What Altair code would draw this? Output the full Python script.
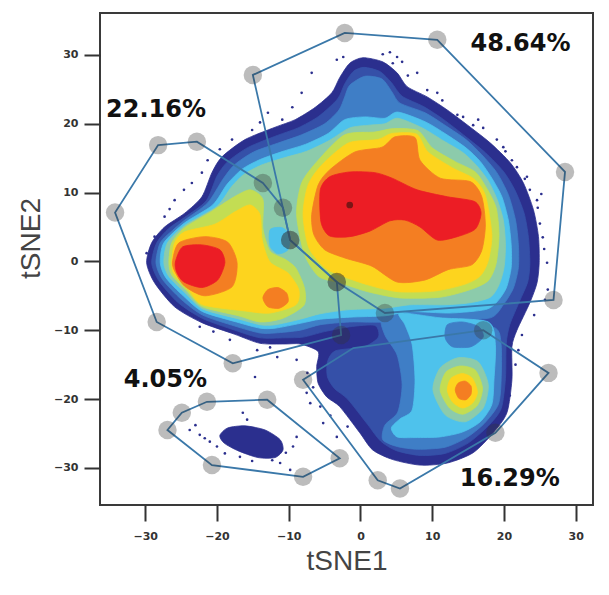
import altair as alt
import pandas as pd

# ---------------- axes ----------------
X_DOMAIN = [-36.3, 32.4]
Y_DOMAIN = [-35.4, 36.1]
TICK_VALUES = [-30, -20, -10, 0, 10, 20, 30]

# ---------------- density levels (outer -> inner) ----------------
LEVELS = ["d1", "d2", "d3", "d4", "d5", "d6", "d7", "d8", "d9"]
LEVEL_COLORS = ["#2b2f8e", "#3550a8", "#3f7ec6", "#4ec2ec", "#8ccbab",
                "#c3dd53", "#fdd41e", "#f47e22", "#ec1d25"]

# contour outlines (tSNE1, tSNE2)
L1_MAIN = [(0.35, 29.6), (3.1, 29.0), (5.1, 27.4), (6.5, 25.4), (9.3, 23.9), (12.1, 22.0), (15.3, 19.5),
           (18.1, 17.2), (20.9, 14.3), (22.7, 11.4), (24.1, 7.5), (24.8, 3.6), (24.9, -0.2), (24.6, -3.1),
           (23.6, -6.0), (21.8, -10.0), (21.1, -12.4), (21.1, -17.2), (20.4, -22.0), (18.5, -24.9),
           (15.7, -27.8), (12.1, -29.3), (8.3, -29.6), (4.5, -28.8), (1.7, -27.4), (-0.1, -24.9),
           (-2.9, -21.1), (-4.7, -19.7), (-5.9, -17.7), (-6.1, -15.3), (-5.9, -13.1), (-8.4, -12.0),
           (-10.5, -12.0), (-14.0, -11.9), (-17.5, -10.6), (-22.1, -8.9), (-25.9, -6.6), (-28.7, -3.1),
           (-29.8, -0.2), (-29.1, 2.7), (-27.3, 5.0), (-24.5, 7.0), (-22.1, 9.4), (-20.7, 12.9),
           (-19.3, 15.2), (-16.1, 17.7), (-11.9, 19.5), (-9.1, 20.6), (-6.3, 22.4), (-4.0, 24.5),
           (-2.9, 26.7), (-1.5, 28.8)]
L1_ISLAND = [(-19.6, -25.3), (-18.5, -24.2), (-16.1, -23.9), (-13.3, -24.5), (-11.2, -25.9), (-10.8, -27.4),
             (-11.9, -28.5), (-14.3, -28.5), (-17.1, -27.5), (-19.0, -26.4)]
L2_MAIN = [(0.5, 28.2), (2.7, 27.6), (4.3, 26.0), (5.8, 24.0), (8.8, 22.5), (11.6, 20.6), (14.7, 18.1),
           (17.4, 15.8), (19.9, 13.1), (21.5, 10.4), (22.8, 7.0), (23.4, 3.5), (23.6, -0.3), (23.3, -3.0),
           (22.2, -5.7), (20.8, -9.2), (20.3, -12.0), (20.2, -17.0), (19.6, -21.4), (17.8, -23.9),
           (15.0, -26.4), (11.8, -27.9), (8.3, -28.2), (5.0, -27.5), (2.8, -26.1), (1.0, -23.7),
           (-1.8, -20.0), (-3.6, -18.5), (-4.6, -16.8), (-4.6, -14.6), (-3.5, -13.0), (0.5, -12.4),
           (2.5, -11.0), (2.0, -9.3), (-1.5, -9.5), (-5.0, -10.2), (-8.0, -11.0), (-10.5, -11.1),
           (-14.0, -11.1), (-17.5, -10.0), (-22.0, -8.3), (-25.4, -6.0), (-28.1, -2.8), (-29.1, -0.2),
           (-28.4, 2.7), (-26.7, 4.8), (-24.5, 6.4), (-21.5, 8.8), (-20.0, 12.4), (-18.5, 14.5),
           (-15.6, 16.6), (-11.6, 18.3), (-8.7, 19.4), (-5.8, 21.1), (-3.2, 23.6), (-2.2, 25.8), (-1.0, 27.6)]
L3_UPPER = [(-1.5, 25.6), (0.6, 26.9), (3.0, 26.5), (4.4, 24.6), (5.5, 23.0), (9.0, 21.6), (11.9, 19.7),
            (14.7, 17.7), (16.9, 15.5), (19.0, 12.9), (20.6, 9.7), (21.6, 6.0), (22.0, 2.4), (22.0, -0.9),
            (21.3, -3.9), (19.9, -6.3), (18.1, -8.2), (12.5, -8.5), (6.9, -8.2), (3.4, -8.8), (-1.5, -8.8),
            (-5.6, -9.2), (-8.4, -10.0), (-11.9, -10.4), (-14.0, -10.4), (-17.5, -9.4), (-22.0, -7.8),
            (-25.0, -5.5), (-27.6, -2.6), (-28.5, -0.2), (-27.9, 2.7), (-26.2, 4.5), (-24.5, 6.0),
            (-21.3, 8.5), (-19.2, 11.9), (-17.6, 14.0), (-14.9, 15.9), (-11.2, 17.3), (-8.2, 18.4),
            (-5.0, 20.0), (-3.0, 22.0), (-2.2, 23.9)]
L3_LOWER = [(3.1, -8.2), (8.3, -8.2), (13.9, -8.8), (18.8, -9.7), (19.6, -12.1), (19.6, -17.2), (19.2, -20.8),
            (17.2, -23.6), (14.8, -25.6), (11.8, -27.0), (8.0, -27.3), (5.1, -26.9), (3.1, -25.9),
            (3.4, -23.8), (5.2, -21.9), (5.8, -17.9), (5.1, -13.6), (3.4, -10.7)]
L4_UPPER = [(-2.2, 20.6), (0.6, 21.0), (3.4, 20.8), (5.2, 21.7), (9.0, 20.3), (11.9, 18.5), (14.7, 16.5),
            (16.7, 14.5), (18.3, 12.1), (19.7, 9.4), (20.6, 6.0), (21.0, 2.4), (21.0, -0.9), (20.3, -3.9),
            (19.0, -5.9), (17.4, -7.0), (12.5, -7.5), (6.9, -7.3), (3.4, -7.9), (-1.5, -8.1), (-5.6, -8.4),
            (-8.4, -9.0), (-11.9, -9.7), (-14.0, -9.7), (-17.3, -8.8), (-22.0, -7.3), (-24.7, -5.0),
            (-27.1, -2.4), (-27.9, -0.2), (-27.4, 2.7), (-24.5, 5.6), (-20.6, 8.2), (-18.6, 11.2),
            (-16.5, 13.4), (-14.0, 14.8), (-10.8, 16.0), (-7.7, 17.0), (-4.5, 18.6)]
L4_LOWER = [(5.5, -7.5), (11.1, -8.2), (17.8, -8.8), (18.8, -12.1), (18.6, -17.2), (18.3, -20.8),
            (16.7, -23.3), (14.2, -24.8), (11.1, -25.5), (7.6, -25.6), (5.1, -25.5), (4.3, -24.2),
            (5.5, -22.9), (7.2, -21.6), (7.6, -17.2), (7.2, -12.1), (6.2, -9.2)]
L3_BLOB = [(12.1, -9.2), (14.2, -8.8), (16.5, -9.5), (17.1, -11.0), (15.4, -12.4), (12.8, -12.4), (11.8, -11.1)]
L5_MAIN = [(-1.5, 19.4), (1.3, 19.8), (3.4, 20.0), (5.2, 20.8), (8.6, 19.4), (11.6, 17.5), (14.3, 15.8),
           (16.2, 13.9), (17.8, 11.7), (19.0, 9.1), (19.9, 6.0), (20.2, 2.4), (20.0, -0.9), (19.3, -3.4),
           (18.1, -5.2), (15.3, -6.0), (11.8, -6.3), (6.9, -6.3), (3.4, -6.8), (-1.5, -7.0), (-5.6, -7.6),
           (-8.4, -8.4), (-11.9, -9.2), (-14.0, -9.2), (-17.2, -8.3), (-22.0, -6.9), (-24.4, -4.6),
           (-26.7, -2.2), (-27.4, -0.2), (-26.9, 2.7), (-24.5, 5.2), (-20.0, 8.0), (-18.0, 10.8),
           (-16.3, 12.6), (-13.8, 14.0), (-10.5, 15.1), (-7.5, 16.0), (-4.3, 17.6)]
L6_UPPER = [(-8.9, 6.8), (-8.2, 11.4), (-5.9, 14.7), (-2.2, 18.4), (2.0, 18.8), (4.6, 19.3), (8.0, 19.0),
            (10.0, 16.5), (13.2, 14.5), (16.0, 13.0), (17.6, 10.6), (18.9, 7.8), (19.3, 3.9), (18.9, -0.3),
            (17.8, -2.8), (15.3, -4.1), (11.1, -5.2), (5.5, -5.3), (1.0, -4.4), (-2.9, -3.1), (-5.8, -2.2),
            (-7.8, 1.0)]
L6_LEFT = [(-26.7, -0.1), (-26.3, 2.7), (-24.5, 4.9), (-20.7, 7.3), (-17.9, 9.2), (-15.4, 10.4), (-13.6, 9.0),
           (-13.6, 4.8), (-12.6, 1.5), (-10.5, 0.3), (-9.0, -1.0), (-7.8, -3.9), (-7.9, -6.4), (-10.9, -8.3),
           (-14.0, -8.8), (-17.0, -7.9), (-22.0, -6.6), (-24.2, -4.3), (-26.3, -2.0)]
L7_UPPER = [(-8.0, 6.8), (-7.3, 11.1), (-5.4, 14.0), (-1.7, 17.2), (2.4, 17.7), (4.4, 18.6), (7.8, 18.5),
            (9.4, 15.9), (12.8, 13.6), (15.8, 12.0), (17.4, 9.6), (18.3, 3.9), (17.8, 0.1), (16.7, -2.1),
            (14.6, -3.3), (10.4, -4.3), (5.2, -4.4), (1.0, -3.4), (-2.9, -2.0), (-5.0, -0.9), (-7.2, 2.0)]
L7_LEFT = [(-26.3, -0.1), (-25.9, 2.7), (-24.5, 4.3), (-20.3, 5.4), (-17.5, 7.2), (-15.4, 8.2), (-14.0, 6.8),
           (-13.7, 3.1), (-12.6, -0.1), (-10.1, -1.7), (-8.6, -4.1), (-9.0, -6.3), (-12.6, -7.5),
           (-16.1, -7.2), (-22.0, -6.3), (-24.0, -4.1), (-26.0, -1.8)]
L8_UPPER = [(-6.8, 6.8), (-5.9, 11.1), (-4.3, 13.3), (-0.8, 15.9), (3.0, 16.6), (4.8, 18.1), (7.6, 18.0),
            (8.3, 14.7), (11.1, 12.1), (15.3, 11.6), (16.9, 9.4), (17.4, 5.3), (16.9, 1.6), (15.5, -0.5),
            (12.2, -1.2), (9.0, -2.7), (5.1, -3.0), (1.6, -0.7), (-2.2, 0.5), (-5.0, 1.7), (-6.5, 3.9)]
L8_LEFT = [(-26.2, -0.1), (-25.3, 2.7), (-21.7, 3.6), (-18.5, 2.8), (-17.2, -0.2), (-17.9, -3.7),
           (-21.7, -5.0), (-24.5, -3.6), (-25.8, -1.6)]
L8_SMALL = [(-13.6, -5.3), (-12.9, -4.1), (-11.5, -3.8), (-10.3, -4.6), (-10.1, -5.9), (-11.3, -6.8), (-12.9, -6.6)]
L9_UPPER = [(-5.6, 10.4), (-4.3, 12.3), (-1.5, 13.0), (2.0, 12.9), (4.4, 12.1), (7.9, 10.4), (12.1, 9.4),
            (15.9, 8.7), (16.8, 7.0), (16.0, 4.7), (13.5, 3.6), (10.7, 3.1), (8.3, 5.0), (6.2, 6.0),
            (4.1, 5.9), (1.3, 4.4), (-1.5, 3.6), (-4.3, 3.7), (-5.5, 5.7)]
L9_LEFT = [(-25.8, -0.1), (-24.8, 2.1), (-22.1, 2.4), (-19.6, 1.7), (-18.9, -0.2), (-19.9, -2.7),
           (-22.1, -3.8), (-24.6, -3.0), (-25.6, -1.6)]
L4_SPOT = [(-12.6, 4.6), (-10.9, 4.9), (-9.8, 3.7), (-10.1, 1.7), (-11.5, 1.1), (-12.6, 2.2)]
HOT_L5 = [(10.1, -18.7), (11.1, -15.5), (13.6, -14.0), (16.4, -14.6), (17.8, -17.9), (17.1, -21.3),
          (14.6, -23.3), (11.8, -22.3)]
HOT_L6 = [(11.1, -18.7), (11.9, -16.1), (13.9, -15.2), (16.0, -15.8), (17.0, -18.4), (16.3, -20.9),
          (14.3, -22.2), (12.4, -21.3)]
HOT_L7 = [(12.1, -18.7), (12.6, -17.0), (14.2, -16.3), (15.6, -17.0), (16.3, -19.0), (15.6, -20.6),
          (14.2, -21.3), (12.8, -20.4)]
HOT_L8 = [(13.2, -18.7), (13.6, -17.7), (14.6, -17.4), (15.4, -18.1), (15.4, -19.3), (14.7, -20.1), (13.7, -19.9)]

DENSITY = [("d1", L1_MAIN), ("d1", L1_ISLAND), ("d2", L2_MAIN), ("d3", L3_UPPER), ("d3", L3_LOWER),
           ("d4", L4_UPPER), ("d4", L4_LOWER), ("d3", L3_BLOB), ("d5", L5_MAIN),
           ("d6", L6_UPPER), ("d6", L6_LEFT), ("d7", L7_UPPER), ("d7", L7_LEFT),
           ("d8", L8_UPPER), ("d8", L8_LEFT), ("d8", L8_SMALL), ("d9", L9_UPPER), ("d9", L9_LEFT),
           ("d4", L4_SPOT), ("d5", HOT_L5), ("d6", HOT_L6), ("d7", HOT_L7), ("d8", HOT_L8)]

# scattered single events
OUT_X = [3.1, 4.1, 5.1, 5.8, 4.5, 7.9, 9.3, 10.7, 13.5, 14.3, 15.7, 17.1, 19.0, 19.9, 21.1, 21.8, 23.2, 23.6,
         24.6, 24.7, 25.0, 25.4, 26.0, 26.1, 25.7, 22.5, 22.0, -6.8, -8.2, -9.5, -10.9, -12.9, -15.1, -17.9,
         -21.3, -22.1, -23.5, -25.9, -27.3, -28.7, -22.4, -18.2, -14.4, -11.6, -8.9, -14.7, -23.8, -22.4,
         -21.0, -20.0, -16.4, -15.8, -16.8, -11.2, -9.8, -8.9, -9.4, -7.5, -7.0, -5.6, -5.2, -3.3, -3.3, -2.4,
         6.6, 11.4, 16.4, 20.2, 22.9, 25.2, 25.6, 24.2, -14.0, -19.6, -24.6, -26.6, -29.8, -20.5, -12.6,
         -7.4, -6.6, -4.2, -1.8, -23.0, -21.7, -18.9, -15.1, -12.3, -10.4, 21.6, 20.8]
OUT_Y = [30.1, 30.4, 29.7, 29.0, 28.8, 27.4, 24.9, 24.5, 21.3, 21.0, 19.8, 19.4, 17.7, 16.6, 14.7, 13.7, 12.3,
         10.4, 8.9, 7.8, 5.5, 3.5, -0.2, -4.1, -5.6, -10.7, -12.9, 27.4, 24.5, 22.4, 20.6, 21.6, 19.1, 17.7,
         14.7, 12.9, 11.4, 8.9, 6.5, 3.6, -9.5, -11.4, -12.9, -13.9, -14.3, -16.8, -24.5, -25.2, -26.2, -26.9,
         -22.0, -23.0, -28.4, -29.3, -30.3, -25.5, -26.9, -19.1, -20.6, -21.1, -23.5, -25.5, 29.3, 29.7,
         27.0, 23.4, 20.6, 16.0, 12.0, 9.8, 1.8, -7.8, 20.2, 16.3, 10.4, 7.6, 1.2, -10.2, -12.5,
         -16.2, -18.3, -22.4, -24.0, -23.8, -25.7, -27.9, -29.0, -28.9, -27.8, -15.0, -19.5]
PEAK_DOT = [(-1.5, 8.2)]

# ---------------- gates ----------------
GATES = {
    "g22": [(-28.2, 16.9), (-22.8, 17.4), (-13.6, 11.4), (-10.8, 7.8), (-9.8, 3.1), (-3.3, -3.0),
            (-2.7, -10.7), (-17.8, -14.8), (-28.4, -8.8), (-34.2, 7.1)],
    "g48": [(-15.0, 27.1), (-2.2, 33.2), (10.7, 32.2), (28.5, 13.0), (26.9, -5.6), (3.4, -7.5),
            (-3.3, -3.0), (-9.8, 3.1)],
    "g16": [(-8.0, -17.2), (-1.0, -12.6), (17.1, -10.0), (26.2, -16.2), (18.8, -24.9), (5.5, -33.0),
            (2.4, -31.8)],
    "g04": [(-26.9, -24.5), (-24.9, -22.0), (-21.4, -20.4), (-13.0, -20.1), (-2.9, -28.6), (-8.0, -31.3),
            (-20.7, -29.6)],
}
GATE_HANDLE = {
    "g22": [1, 1, 1, 1, 1, 1, 1, 1, 1, 1],
    "g48": [1, 1, 1, 1, 1, 1, 1, 1],
    "g16": [1, 0, 1, 1, 1, 1, 1],
    "g04": [1, 1, 1, 1, 1, 1, 1],
}
LABEL_TEXT = ["22.16%", "48.64%", "4.05%", "16.29%"]
LABEL_X = [-28.5, 22.3, -27.2, 20.8]
LABEL_Y = [22.0, 31.6, -17.2, -31.6]

# ---------------- tables ----------------
rows = []
for i, (lvl, pts) in enumerate(DENSITY):
    for j, (x, y) in enumerate(pts):
        rows.append({"poly": f"p{i:02d}", "level": lvl, "k": j, "x": x, "y": y})
dens = pd.DataFrame(rows)

outliers = pd.DataFrame({"x": OUT_X, "y": OUT_Y})
peak = pd.DataFrame({"x": [p[0] for p in PEAK_DOT], "y": [p[1] for p in PEAK_DOT]})

grows, hrows = [], []
for g, pts in GATES.items():
    for j, (x, y) in enumerate(pts):
        grows.append({"gate": g, "k": j, "x": x, "y": y})
        if GATE_HANDLE[g][j]:
            hrows.append({"gate": g, "x": x, "y": y})
gates = pd.DataFrame(grows)
handles = pd.DataFrame(hrows)
labels = pd.DataFrame({"t": LABEL_TEXT, "x": LABEL_X, "y": LABEL_Y})

# ---------------- encodings ----------------
x_axis = alt.Axis(values=TICK_VALUES, title="tSNE1", grid=False, domain=False,
                  tickSize=16, tickWidth=2, tickColor="#333333",
                  labelFont="DejaVu Sans", labelFontWeight="bold", labelFontSize=11,
                  labelColor="#333333", labelPadding=9,
                  titleFont="Liberation Sans", titleFontSize=28, titleFontWeight="normal",
                  titleColor="#444444", titlePadding=6)
y_axis = alt.Axis(values=TICK_VALUES, title="tSNE2", grid=False, domain=False,
                  tickSize=16, tickWidth=2, tickColor="#333333",
                  labelFont="DejaVu Sans", labelFontWeight="bold", labelFontSize=11,
                  labelColor="#333333", labelPadding=6,
                  titleFont="Liberation Sans", titleFontSize=28, titleFontWeight="normal",
                  titleColor="#444444", titleAngle=270, titleX=-69, titleY=225,
                  titleAlign="center", titleBaseline="middle")
xs = alt.X("x:Q", scale=alt.Scale(domain=X_DOMAIN, nice=False, zero=False), axis=x_axis)
ys = alt.Y("y:Q", scale=alt.Scale(domain=Y_DOMAIN, nice=False, zero=False), axis=y_axis)
lvl_scale = alt.Scale(domain=LEVELS, range=LEVEL_COLORS)

density = alt.Chart(dens).mark_line(interpolate="cardinal-closed", tension=0.25, strokeWidth=0.8).encode(
    x=xs, y=ys, order=alt.Order("k:Q"), detail="poly:N",
    fill=alt.Fill("level:N", scale=lvl_scale, legend=None),
    stroke=alt.Stroke("level:N", scale=lvl_scale, legend=None),
)
dots = alt.Chart(outliers).mark_circle(size=7, color="#2b2f8e", opacity=1).encode(x=xs, y=ys)
peak_dot = alt.Chart(peak).mark_circle(size=45, color="#7a1616", opacity=1).encode(x=xs, y=ys)
gate_lines = alt.Chart(gates).mark_line(interpolate="linear-closed", color="#3a78a9", strokeWidth=1.8).encode(
    x=xs, y=ys, order=alt.Order("k:Q"), detail="gate:N")
gate_handles = alt.Chart(handles).mark_circle(size=340, color="#333333", opacity=0.33).encode(x=xs, y=ys)
gate_labels = alt.Chart(labels).mark_text(font="DejaVu Sans", fontWeight="bold", fontSize=24,
                                           color="#111111", baseline="middle", align="center").encode(
    x=xs, y=ys, text="t:N")

chart = alt.layer(density, dots, peak_dot, gate_lines, gate_handles, gate_labels).properties(
    width=493, height=492,
    autosize=alt.AutoSizeParams(type="none"),
    padding={"left": 92, "top": 5, "right": 8, "bottom": 82},
).configure_view(stroke="#3a3a3a", strokeWidth=2)

chart.save("out.html", embed_options={"renderer": "svg", "actions": False})
